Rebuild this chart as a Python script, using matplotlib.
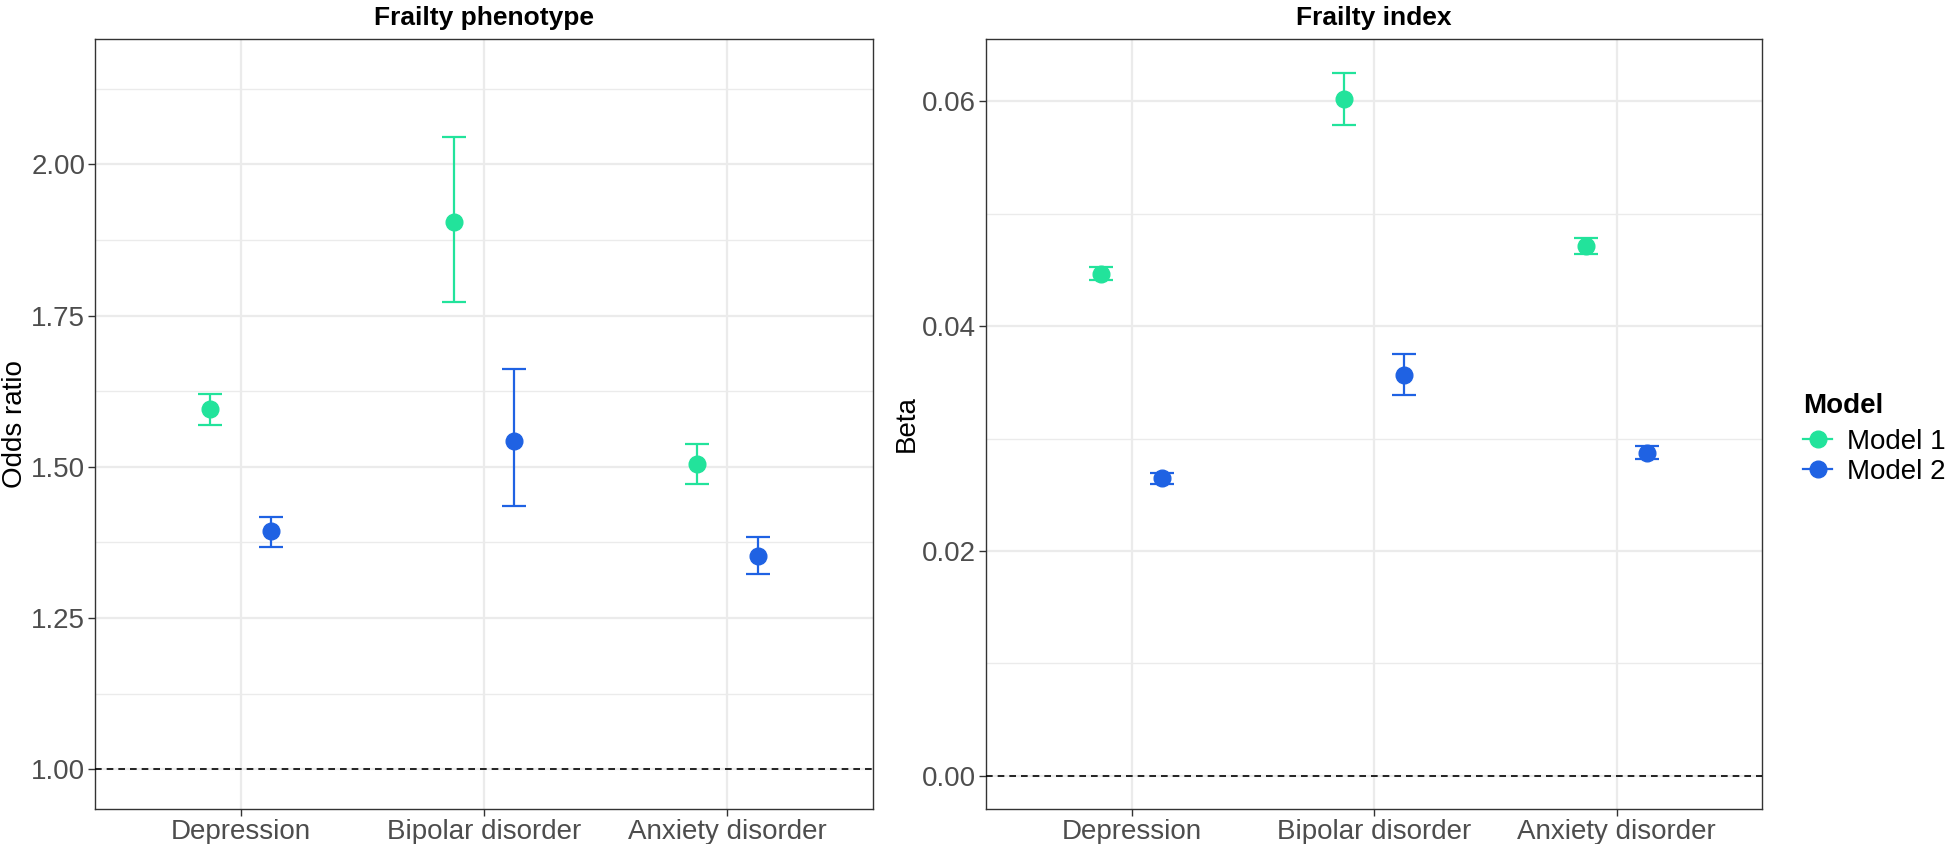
import numpy as np
import matplotlib.pyplot as plt
from matplotlib.lines import Line2D

plt.rcParams['font.family'] = ['Liberation Sans', 'DejaVu Sans']

categories = ['Depression', 'Bipolar disorder', 'Anxiety disorder']
models = ['Model 1', 'Model 2']
colors = ['#22E39B', '#1F62E3']

# Frailty phenotype: odds ratios with 95% CI
or_est = [[1.595, 1.905, 1.504], [1.393, 1.543, 1.353]]
or_low = [[1.569, 1.772, 1.472], [1.368, 1.435, 1.323]]
or_high = [[1.621, 2.046, 1.537], [1.417, 1.662, 1.384]]

# Frailty index: betas with 95% CI
beta_est = [[0.04466, 0.06019, 0.04711], [0.02645, 0.03570, 0.02875]]
beta_low = [[0.04414, 0.05794, 0.04639], [0.02597, 0.03388, 0.02818]]
beta_high = [[0.04529, 0.06254, 0.04788], [0.02693, 0.03752, 0.02938]]

or_ticks = [1.00, 1.25, 1.50, 1.75, 2.00]
beta_ticks = [0.00, 0.02, 0.04, 0.06]

W, H = 1952, 844
fig = plt.figure(figsize=(W / 100, H / 100), dpi=100)
ax1 = fig.add_axes([95 / W, (H - 809) / H, 778 / W, 770 / H])
ax2 = fig.add_axes([986 / W, (H - 809) / H, 776 / W, 770 / H])


def panel(ax, est, low, high, ref, ticks, minor, ylim, title, ylabel):
    x = np.arange(len(categories))
    offsets = [-0.125, 0.125]
    for m in range(len(models)):
        e = np.array(est[m])
        lo = np.array(low[m])
        hi = np.array(high[m])
        ax.errorbar(x + offsets[m], e, yerr=[e - lo, hi - e], fmt='o',
                    color=colors[m], ecolor=colors[m], elinewidth=1.6,
                    capsize=8.5, capthick=1.6, markersize=12, zorder=4)
    ax.axhline(ref, color='black', linestyle=(0, (4, 3)), linewidth=1.2, zorder=3)
    ax.set_xlim(-0.6, 2.6)
    ax.set_ylim(*ylim)
    ax.set_xticks(x)
    ax.set_xticklabels(categories)
    ax.set_yticks(ticks)
    ax.set_yticklabels(['{:.2f}'.format(t) for t in ticks])
    ax.set_yticks(minor, minor=True)
    ax.tick_params(which='minor', length=0)
    ax.tick_params(which='major', length=5, width=1, color='#333333',
                   labelsize=20, labelcolor='#4D4D4D', pad=2)
    ax.grid(True, which='major', color='#EBEBEB', linewidth=1.6, zorder=0)
    ax.grid(True, which='minor', axis='y', color='#EBEBEB', linewidth=1.0, zorder=0)
    ax.set_axisbelow(True)
    for s in ax.spines.values():
        s.set_color('#333333')
        s.set_linewidth(1.0)
    ax.set_title(title, fontsize=19, fontweight='bold', pad=10)
    ax.set_ylabel(ylabel, fontsize=20, labelpad=2)


panel(ax1, or_est, or_low, or_high, 1.0, or_ticks,
      [1.125, 1.375, 1.625, 1.875, 2.125], (0.934, 2.2075),
      'Frailty phenotype', 'Odds ratio')
panel(ax2, beta_est, beta_low, beta_high, 0.0, beta_ticks,
      [0.01, 0.03, 0.05], (-0.00297, 0.06556),
      'Frailty index', 'Beta')

handles = [Line2D([0], [0], color=c, marker='o', markersize=12, linewidth=1.6)
           for c in colors]
leg = fig.legend(handles, models, loc='upper left',
                 bbox_to_anchor=(1803 / W, (H - 393) / H),
                 frameon=False, fontsize=20, title='Model',
                 title_fontproperties={'weight': 'bold', 'size': 20},
                 handlelength=1.05, handletextpad=0.55, labelspacing=0.15,
                 borderpad=0, borderaxespad=0)
leg._legend_box.align = 'left'
leg._legend_box.sep = 7

fig.savefig('out.png', dpi=100)
